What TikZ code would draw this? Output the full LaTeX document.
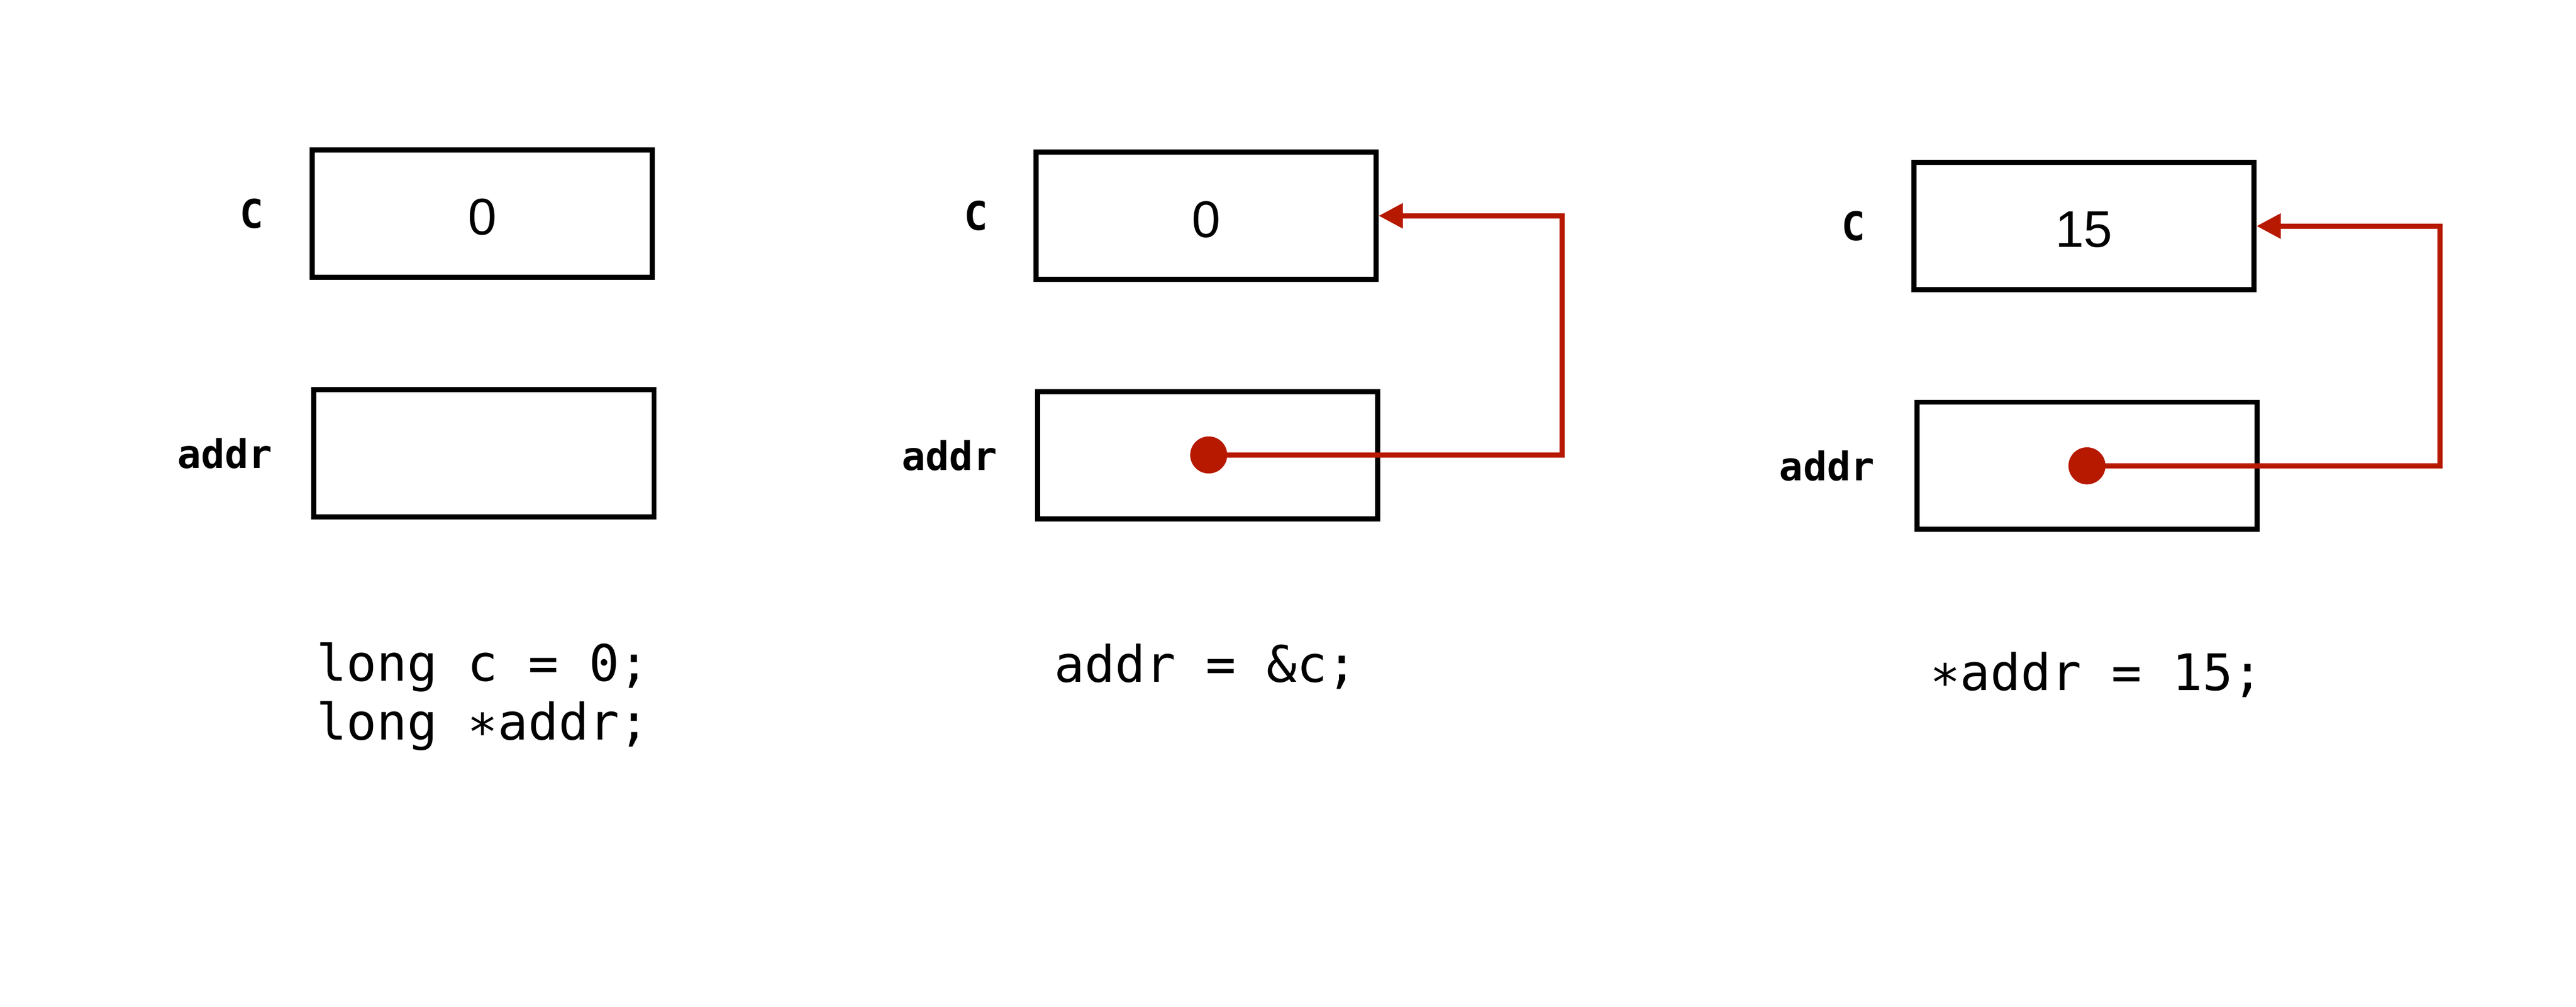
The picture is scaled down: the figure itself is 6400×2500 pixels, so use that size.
\documentclass[tikz,border=0pt]{standalone}
\usepackage{fontspec}
\usetikzlibrary{arrows.meta}
\newfontfamily\codefont{DejaVu Sans Mono}
\newfontfamily\valfont{Liberation Sans}
\definecolor{ptrred}{RGB}{183,25,0}
\tikzset{
  cell/.style={draw=black, line width=1.27pt, minimum width=84.5pt, minimum height=31.6pt, inner sep=0pt},
  val/.style={font=\valfont\fontsize{12.8}{15}\selectfont, inner sep=0pt, yshift=-0.9pt},
  lbl/.style={font=\codefont\bfseries\fontsize{9.8}{12}\selectfont, inner sep=0pt},
  code/.style={font=\codefont\fontsize{12.5}{14.7}\selectfont, inner sep=0pt, align=left},
  dot/.style={circle, fill=ptrred, draw=none, minimum size=9.2pt, inner sep=0pt},
  ptr/.style={draw=ptrred, line width=1.25pt, -{Triangle[length=6pt,width=6pt]}},
}
\begin{document}
\begin{tikzpicture}[x=0.1pt, y=-0.1pt]
\useasboundingbox (0,0) rectangle (6400,2500);
% panel 1
\node[cell] (c1) at (1198,530.5) {};
\node[val] (v1) at (c1.center) {0};
\node[cell] (a1) at (1202.5,1126) {};
\node[lbl] (lc1) at (625.5,530.5) {C};
\node[lbl] (la1) at (559,1126) {addr};
\node[code, anchor=west] (code1) at (784,1730) {long c = 0;\\long ∗addr;};
% panel 2
\node[cell] (c2) at (2996.5,536) {};
\node[val] (v2) at (c2.center) {0};
\node[cell] (a2) at (3000.5,1131) {};
\node[lbl] (lc2) at (2425,536) {C};
\node[lbl] (la2) at (2359,1131) {addr};
\node[dot] (d2) at (3003,1130) {};
\coordinate (k2) at (3881,536);
\draw[ptr] (d2.center) -| (k2) -- (c2.east);
\node[code, anchor=base west] (code2) at (2618,1694) {addr = \&c;};
% panel 3
\node[cell] (c3) at (5177.5,561.5) {};
\node[val] (v3) at (c3.center) {15};
\node[cell] (a3) at (5185.5,1157) {};
\node[lbl] (lc3) at (4605,561.5) {C};
\node[lbl] (la3) at (4539,1157) {addr};
\node[dot] (d3) at (5185,1157) {};
\coordinate (k3) at (6062,561.5);
\draw[ptr] (d3.center) -| (k3) -- (c3.east);
\node[code, anchor=base west] (code3) at (4793,1714) {∗addr = 15;};
\end{tikzpicture}
\end{document}
